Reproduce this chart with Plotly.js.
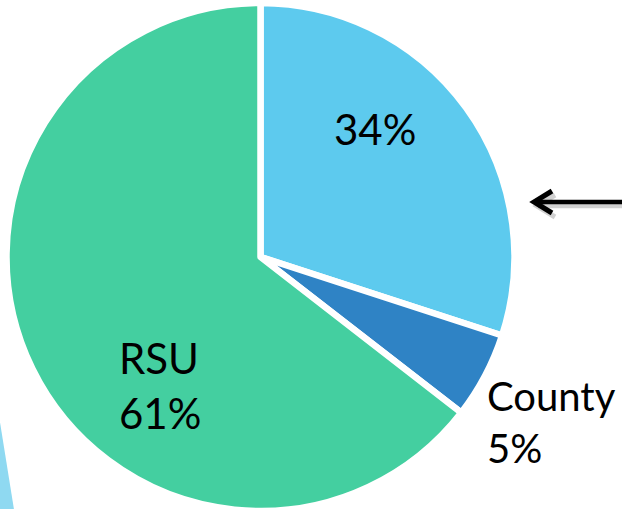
<!DOCTYPE html>
<html>
<head>
<meta charset="utf-8">
<script src="https://cdn.plot.ly/plotly-3.0.1.min.js"></script>
<style>
  html, body { margin: 0; padding: 0; background: #ffffff; overflow: hidden; width: 622px; height: 509px; }
  #chart { width: 622px; height: 520px; }
</style>
</head>
<body>
<div id="chart"></div>
<script>
// ---- data ----
const categories = ['Unlabeled', 'County', 'RSU'];      // internal slice names
const shownNames = ['', 'County', 'RSU'];               // names printed on the chart
const sliceShares = [30, 5.5, 64.5];                    // slice sizes as drawn
const percentLabels = ['34%', '5%', '61%'];             // percentages printed on the chart
const sliceColors = ['#5DCAEE', '#2F83C5', '#44CFA0'];

// ---- figure geometry ----
const W = 622, H = 520;
const px = v => v / W;
const py = v => 1 - v / H;

// label anchor positions (pixels), alignment and size
const labelPos = [
  { x: 374.5, y: 129, xanchor: 'center', align: 'center', size: 42 },
  { x: 485,   y: 422, xanchor: 'left',   align: 'left',   size: 40 },
  { x: 117,   y: 385, xanchor: 'left',   align: 'left',   size: 42 }
];

const labelAnnotations = categories.map((c, i) => ({
  xref: 'paper', yref: 'paper',
  x: px(labelPos[i].x), y: py(labelPos[i].y),
  xanchor: labelPos[i].xanchor, yanchor: 'middle', align: labelPos[i].align,
  text: (shownNames[i] ? shownNames[i] + '<br>' : '') + percentLabels[i],
  showarrow: false,
  font: { family: 'Lato, "Noto Sans", sans-serif', size: labelPos[i].size, color: '#000000' }
}));

// arrow pointing at the light-blue slice (with a soft shadow), drawn as shapes
function arrowShapes(dx, dy, color) {
  const tipX = 532 + dx, tipY = 202 + dy;
  return [
    { type: 'line', xref: 'paper', yref: 'paper',
      x0: px(tipX + 3), y0: py(tipY), x1: px(640), y1: py(tipY),
      line: { color: color, width: 4.5 } },
    { type: 'path', xref: 'paper', yref: 'paper',
      path: 'M ' + px(tipX + 20) + ' ' + py(tipY - 11) +
            ' L ' + px(tipX + 2) + ' ' + py(tipY) +
            ' L ' + px(tipX + 20) + ' ' + py(tipY + 11),
      line: { color: color, width: 5 } }
  ];
}

const trace = {
  type: 'pie',
  labels: categories,
  values: sliceShares,
  sort: false,
  direction: 'clockwise',
  rotation: 0,
  marker: { colors: sliceColors, line: { color: '#ffffff', width: 6.5 } },
  textinfo: 'none',
  hoverinfo: 'none',
  showlegend: false,
  domain: { x: [px(6.5), px(514.5)], y: [py(511), py(3)] }
};

const layout = {
  width: W, height: H,
  margin: { l: 0, r: 0, t: 0, b: 0, pad: 0 },
  paper_bgcolor: '#ffffff',
  plot_bgcolor: '#ffffff',
  showlegend: false,
  shapes: [{
    type: 'path', xref: 'paper', yref: 'paper',
    path: 'M ' + px(-1) + ' ' + py(416) + ' L ' + px(16) + ' ' + py(522) + ' L ' + px(-1) + ' ' + py(522) + ' Z',
    fillcolor: '#8FD9F1', line: { width: 0 }, layer: 'below'
  }].concat(arrowShapes(3, 4, 'rgba(0,0,0,0.18)'), arrowShapes(0, 0, '#000000')),
  annotations: labelAnnotations
};

Plotly.newPlot('chart', [trace], layout, { displayModeBar: false, staticPlot: true });
</script>
</body>
</html>
